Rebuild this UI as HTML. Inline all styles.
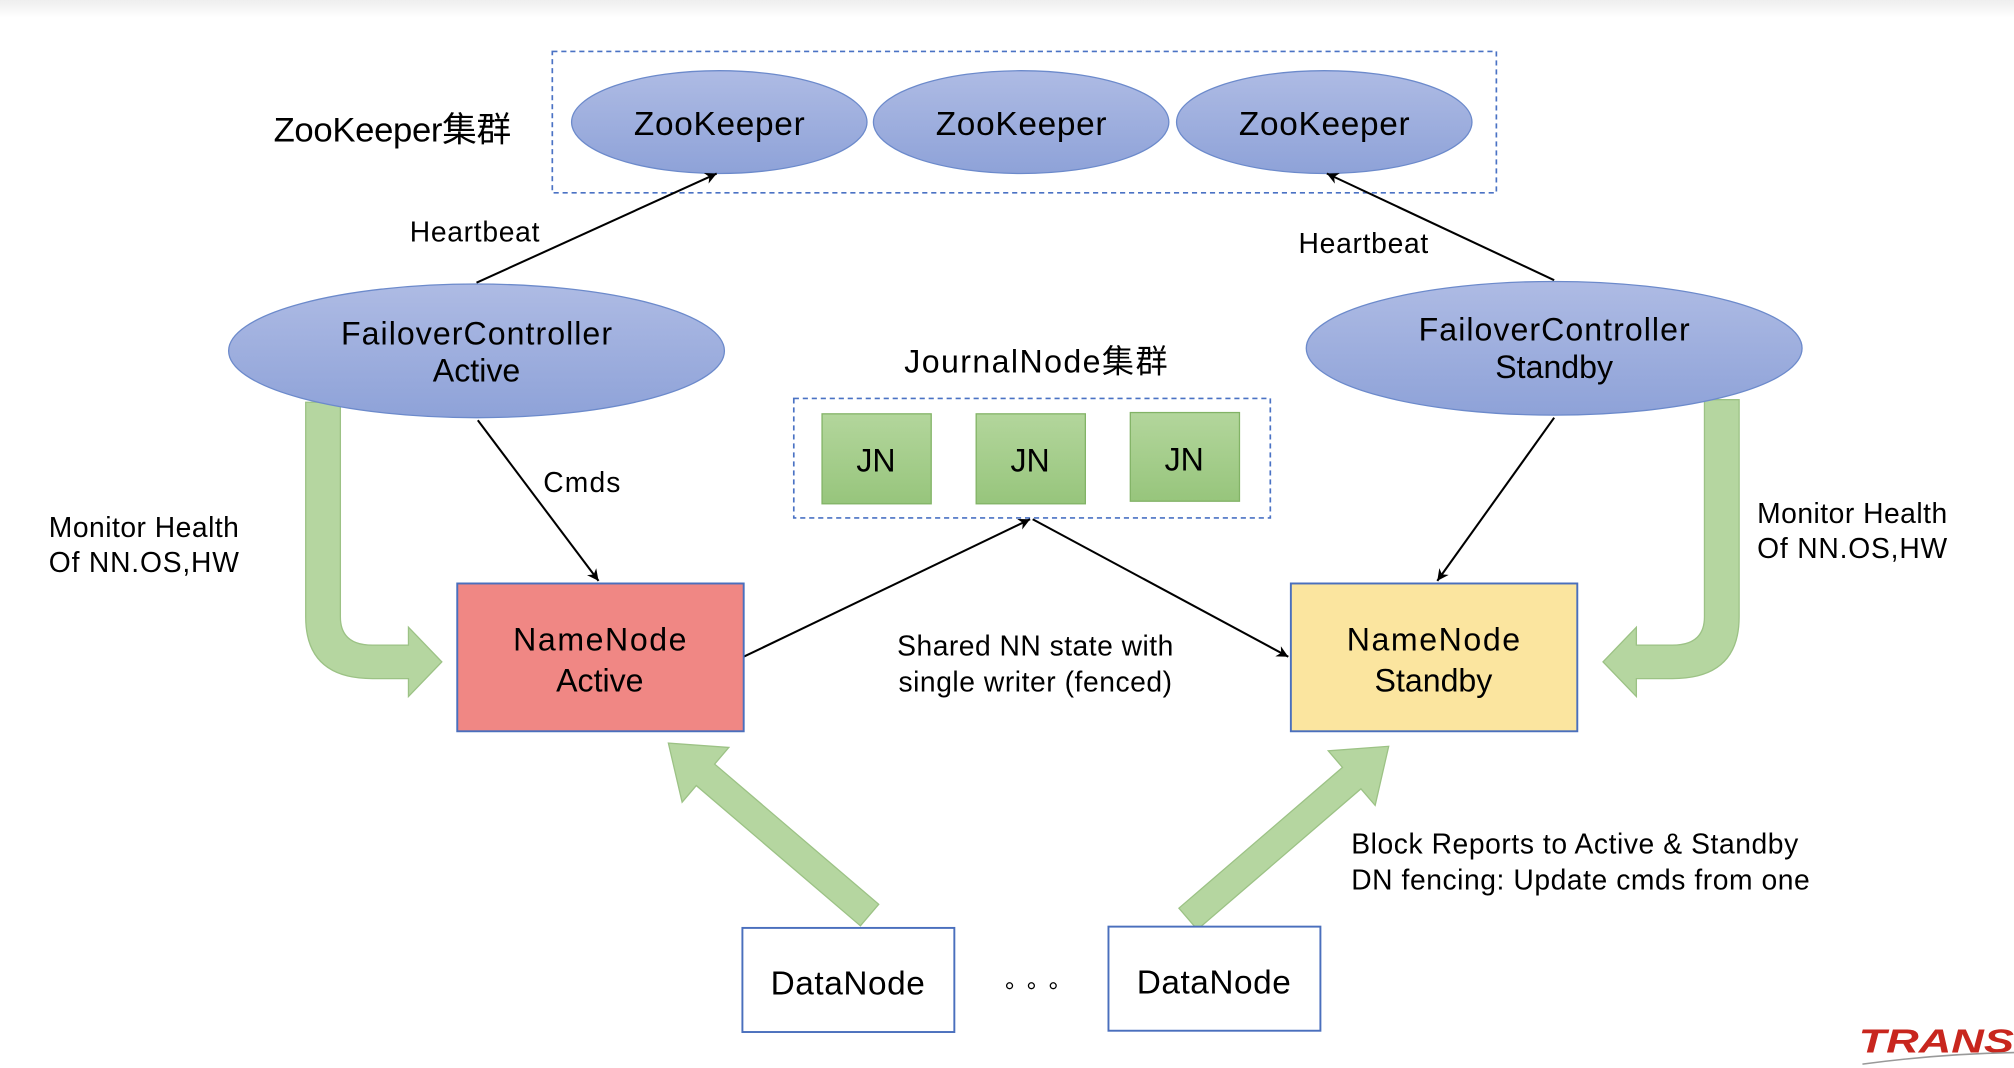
<!DOCTYPE html>
<html><head><meta charset="utf-8"><style>
html,body{margin:0;padding:0;background:#fff;}
svg{display:block;}
text{font-family:"Liberation Sans","Noto Sans CJK SC",sans-serif;fill:#000;}
</style></head><body>
<svg width="2014" height="1068" viewBox="0 0 1568 831" preserveAspectRatio="none" xmlns="http://www.w3.org/2000/svg">
<defs>
<linearGradient id="bl" x1="0" y1="0" x2="0" y2="1"><stop offset="0" stop-color="#aebbe4"/><stop offset="1" stop-color="#8ea2d8"/></linearGradient>
<linearGradient id="gr" x1="0" y1="0" x2="0" y2="1"><stop offset="0" stop-color="#b3d69c"/><stop offset="1" stop-color="#97c57c"/></linearGradient>
<linearGradient id="tb" x1="0" y1="0" x2="0" y2="1"><stop offset="0" stop-color="#eeeeee"/><stop offset="1" stop-color="#ffffff"/></linearGradient>
<marker id="ah" viewBox="0 0 10 10" refX="10" refY="5" markerWidth="9" markerHeight="9" markerUnits="userSpaceOnUse" orient="auto"><path d="M0,0 L10,5 L0,10 L3,5 Z" fill="#000"/></marker>
</defs>
<rect x="0" y="0" width="1568" height="14" fill="url(#tb)"/>
<rect x="430" y="40" width="735" height="110" fill="none" stroke="#4a72c4" stroke-width="1.3" stroke-dasharray="4,3"/>
<ellipse cx="560" cy="95" rx="115" ry="40" fill="url(#bl)" stroke="#6c8acb" stroke-width="1"/>
<ellipse cx="795" cy="95" rx="115" ry="40" fill="url(#bl)" stroke="#6c8acb" stroke-width="1"/>
<ellipse cx="1031" cy="95" rx="115" ry="40" fill="url(#bl)" stroke="#6c8acb" stroke-width="1"/>
<text x="560" y="105" font-size="26" text-anchor="middle" textLength="133">ZooKeeper</text>
<text x="795" y="105" font-size="26" text-anchor="middle" textLength="133">ZooKeeper</text>
<text x="1031" y="105" font-size="26" text-anchor="middle" textLength="133">ZooKeeper</text>
<text x="213" y="110" font-size="27" textLength="185">ZooKeeper集群</text>
<line x1="371" y1="220" x2="558" y2="135" stroke="#000" stroke-width="1.6" marker-end="url(#ah)"/>
<line x1="1210" y1="218" x2="1033" y2="135" stroke="#000" stroke-width="1.6" marker-end="url(#ah)"/>
<text x="319" y="188" font-size="22" textLength="101">Heartbeat</text>
<text x="1011" y="197" font-size="22" textLength="101">Heartbeat</text>
<path d="M238,313 L265,313 L265,480 Q265,502 290,502 L318,502 L318,488 L344,515 L318,542 L318,528 L290,528 Q238,528 238,480 Z" fill="#b5d6a0" stroke="#9cc285" stroke-width="1"/>
<path d="M1354,311 L1327,311 L1327,480 Q1327,502 1302,502 L1274,502 L1274,488 L1248,515 L1274,542 L1274,528 L1302,528 Q1354,528 1354,480 Z" fill="#b5d6a0" stroke="#9cc285" stroke-width="1"/>
<ellipse cx="371" cy="273" rx="193" ry="52" fill="url(#bl)" stroke="#6c8acb" stroke-width="1"/>
<ellipse cx="1210" cy="271" rx="193" ry="52" fill="url(#bl)" stroke="#6c8acb" stroke-width="1"/>
<text x="371" y="268" font-size="25" text-anchor="middle" textLength="211">FailoverController</text>
<text x="371" y="297" font-size="25" text-anchor="middle">Active</text>
<text x="1210" y="265" font-size="25" text-anchor="middle" textLength="211">FailoverController</text>
<text x="1210" y="294" font-size="25" text-anchor="middle">Standby</text>
<text x="38" y="418" font-size="22" textLength="148">Monitor Health</text>
<text x="38" y="445" font-size="22" textLength="148">Of NN.OS,HW</text>
<text x="1368" y="407" font-size="22" textLength="148">Monitor Health</text>
<text x="1368" y="434" font-size="22" textLength="148">Of NN.OS,HW</text>
<text x="704" y="290" font-size="25" textLength="205">JournalNode集群</text>
<rect x="618" y="310" width="371" height="93" fill="none" stroke="#4a72c4" stroke-width="1.3" stroke-dasharray="4,3"/>
<rect x="640" y="322" width="85" height="70" fill="url(#gr)" stroke="#82b366"/>
<rect x="760" y="322" width="85" height="70" fill="url(#gr)" stroke="#82b366"/>
<rect x="880" y="321" width="85" height="69" fill="url(#gr)" stroke="#82b366"/>
<text x="682" y="367" font-size="25" text-anchor="middle">JN</text>
<text x="802" y="367" font-size="25" text-anchor="middle">JN</text>
<text x="922" y="366" font-size="25" text-anchor="middle">JN</text>
<line x1="372" y1="327" x2="466" y2="452" stroke="#000" stroke-width="1.6" marker-end="url(#ah)"/>
<text x="423" y="383" font-size="22" textLength="60">Cmds</text>
<line x1="1210" y1="325" x2="1119" y2="452" stroke="#000" stroke-width="1.6" marker-end="url(#ah)"/>
<line x1="579" y1="511" x2="802" y2="404" stroke="#000" stroke-width="1.6" marker-end="url(#ah)"/>
<line x1="804" y1="404" x2="1003" y2="511" stroke="#000" stroke-width="1.6" marker-end="url(#ah)"/>
<text x="806" y="510" font-size="22" text-anchor="middle" textLength="215">Shared NN state with</text>
<text x="806" y="538" font-size="22" text-anchor="middle" textLength="213">single writer (fenced)</text>
<rect x="356" y="454" width="223" height="115" fill="#f08784" stroke="#4a6fbd" stroke-width="1.5"/>
<text x="467" y="506" font-size="25" text-anchor="middle" textLength="135">NameNode</text>
<text x="467" y="538" font-size="25" text-anchor="middle">Active</text>
<rect x="1005" y="454" width="223" height="115" fill="#fbe59f" stroke="#4a6fbd" stroke-width="1.5"/>
<text x="1116" y="506" font-size="25" text-anchor="middle" textLength="135">NameNode</text>
<text x="1116" y="538" font-size="25" text-anchor="middle">Standby</text>
<g transform="translate(677,712) rotate(220.5)"><path d="M0,-11 L168,-11 L168,-28 L206,0 L168,28 L168,11 L0,11 Z" fill="#b5d6a0" stroke="#9cc285"/></g>
<g transform="translate(925,715) rotate(-40.7)"><path d="M0,-11 L168,-11 L168,-28 L206,0 L168,28 L168,11 L0,11 Z" fill="#b5d6a0" stroke="#9cc285"/></g>
<text x="1052" y="664" font-size="22" textLength="348">Block Reports to Active &amp; Standby</text>
<text x="1052" y="692" font-size="22" textLength="357">DN fencing: Update cmds from one</text>
<rect x="578" y="722" width="165" height="81" fill="#fff" stroke="#4a6fbd" stroke-width="1.5"/>
<text x="660" y="774" font-size="26" text-anchor="middle" textLength="120">DataNode</text>
<rect x="863" y="721" width="165" height="81" fill="#fff" stroke="#4a6fbd" stroke-width="1.5"/>
<text x="945" y="773" font-size="26" text-anchor="middle" textLength="120">DataNode</text>
<circle cx="786" cy="767" r="2.3" fill="none" stroke="#000"/>
<circle cx="803" cy="767" r="2.3" fill="none" stroke="#000"/>
<circle cx="820" cy="767" r="2.3" fill="none" stroke="#000"/>
<text x="1447" y="819" font-size="26" font-weight="bold" font-style="italic" textLength="121" lengthAdjust="spacingAndGlyphs" style="fill:#c8261e">TRANS</text>
<path d="M1450,828 Q1510,820 1568,819" stroke="#999" stroke-width="1.2" fill="none"/>
</svg>
</body></html>
